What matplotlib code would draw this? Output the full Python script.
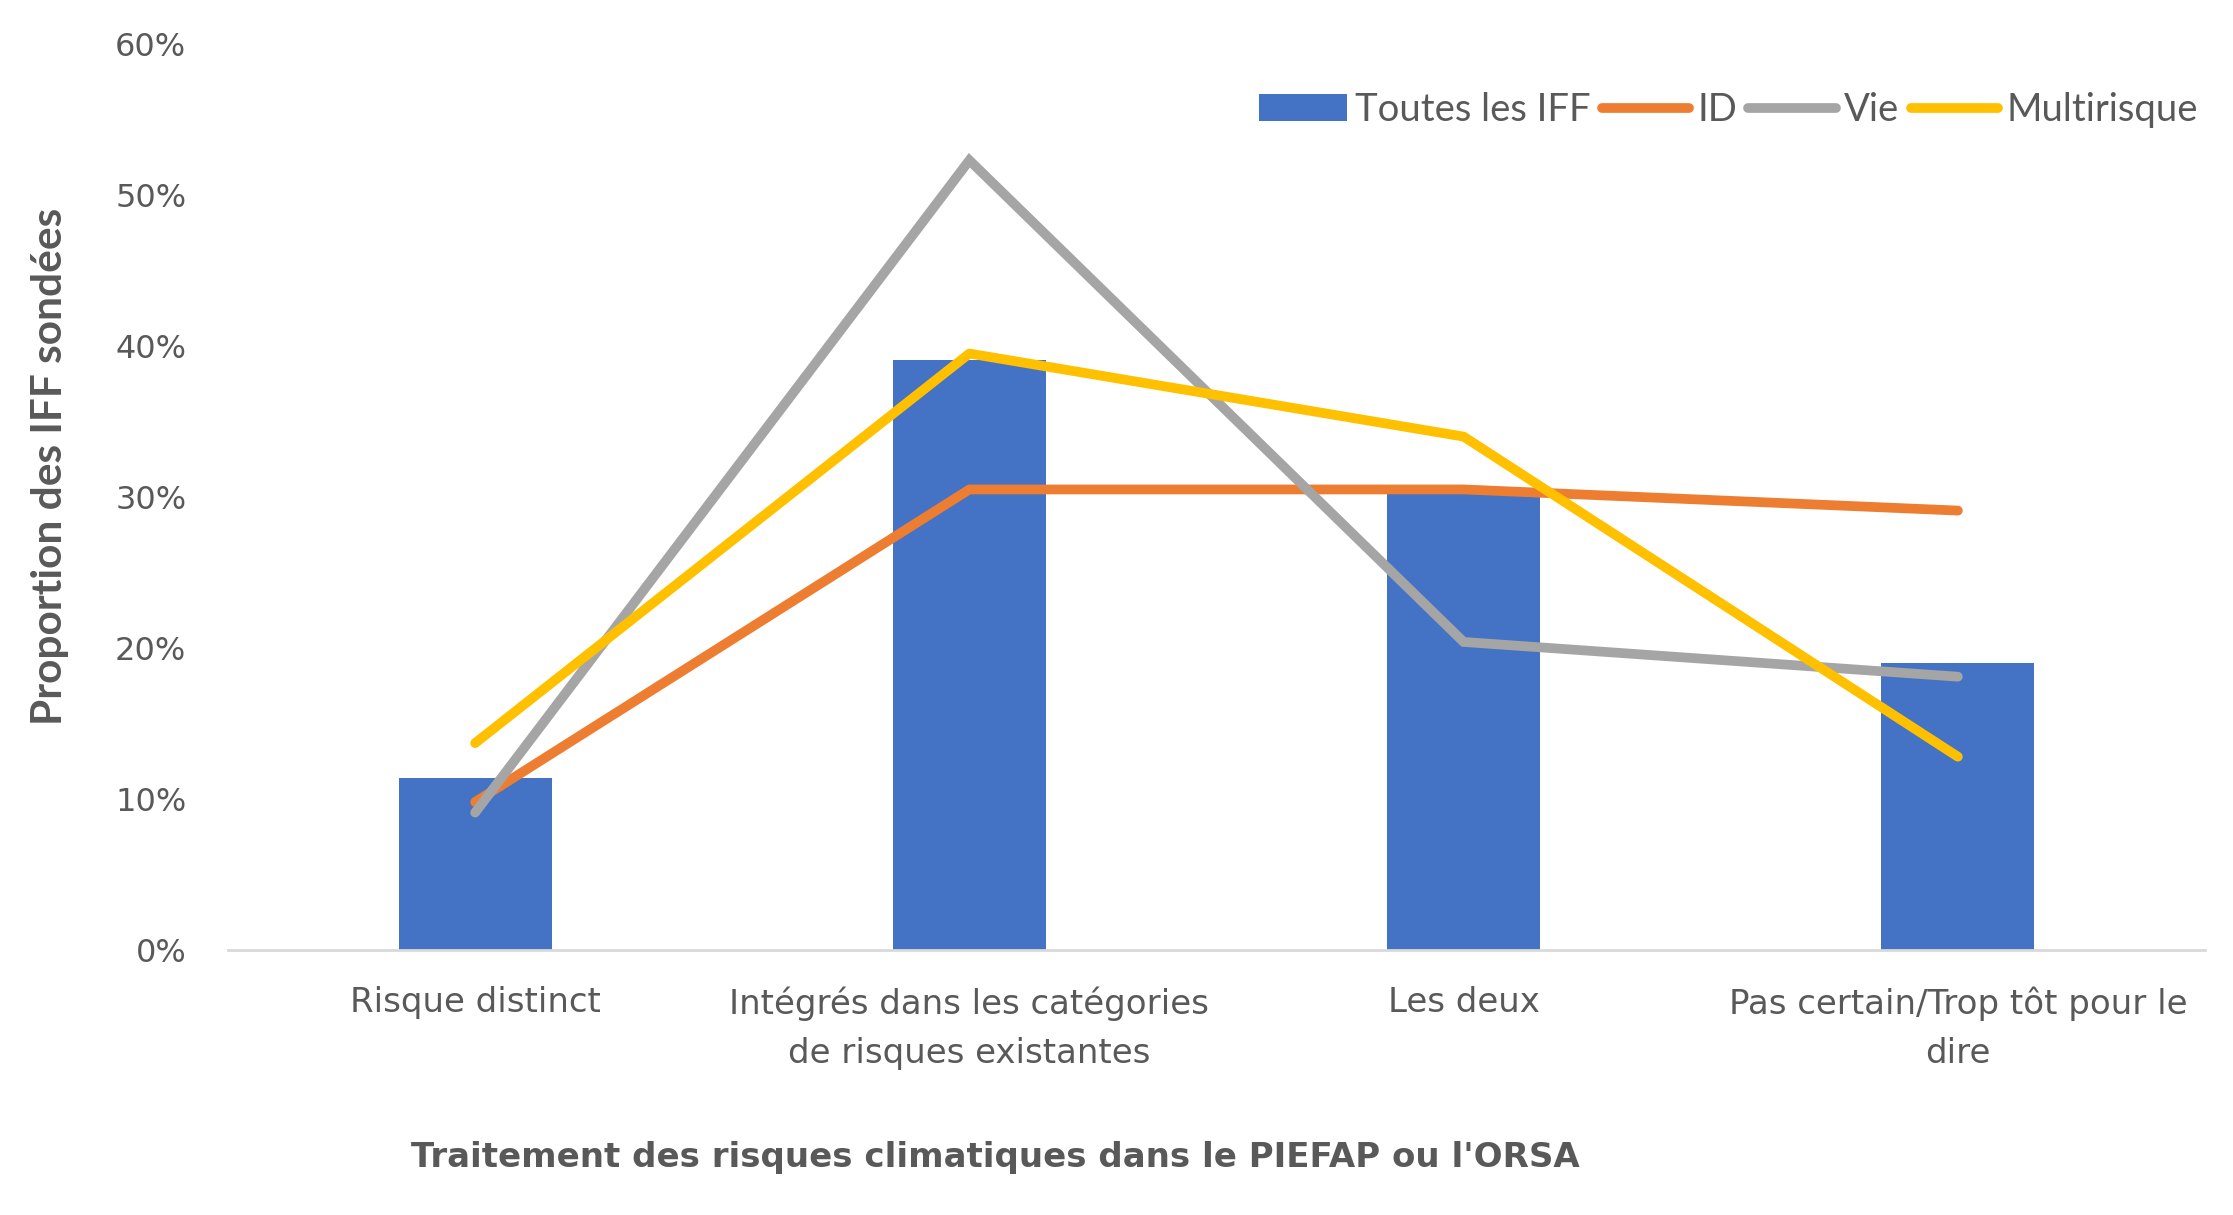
import matplotlib
matplotlib.use("Agg")
import matplotlib.pyplot as plt
import numpy as np

categories = ["Risque distinct", "Intégrés dans les catégories\nde risques existantes",
              "Les deux", "Pas certain/Trop tôt pour le\ndire"]
toutes_iff = [11.4, 39.1, 30.2, 19.0]
id_vals = [9.8, 30.5, 30.5, 29.1]
vie_vals = [9.1, 52.3, 20.4, 18.1]
multi_vals = [13.7, 39.5, 34.0, 12.8]
yticks = [0, 10, 20, 30, 40, 50, 60]

TXT = "#595959"
W, H = 2233, 1215
fig = plt.figure(figsize=(W / 100, H / 100), dpi=100)
ax = fig.add_axes([228 / W, 1 - 950 / H, (2205 - 228) / W, (950 - 44) / H])

x = np.arange(len(categories))
b = ax.bar(x, toutes_iff, width=0.31, color="#4472C4", label="Toutes les IFF", zorder=2)
lw = 7
l1, = ax.plot(x, id_vals, color="#ED7D31", lw=lw, solid_capstyle="round", solid_joinstyle="round", label="ID", zorder=3)
l2, = ax.plot(x, vie_vals, color="#A5A5A5", lw=lw, solid_capstyle="round", solid_joinstyle="miter", label="Vie", zorder=3)
l3, = ax.plot(x, multi_vals, color="#FFC000", lw=lw, solid_capstyle="round", solid_joinstyle="round", label="Multirisque", zorder=4)

ax.set_xlim(-0.5, len(categories) - 0.5)
ax.set_ylim(0, 60)
ax.set_yticks(yticks)
ax.set_yticklabels([f"{v}%" for v in yticks], fontsize=23, color=TXT, family="DejaVu Sans")
ax.set_xticks(x)
ax.set_xticklabels(categories, fontsize=24.5, color=TXT, family="DejaVu Sans", linespacing=1.62)
ax.tick_params(axis="y", length=0, pad=30)
ax.tick_params(axis="x", length=0, pad=26)
for s in ["top", "right", "left"]:
    ax.spines[s].set_visible(False)
ax.spines["bottom"].set_color("#D9D9D9")
ax.spines["bottom"].set_linewidth(2)

leg = ax.legend(handles=[b, l1, l2, l3], loc="upper right", bbox_to_anchor=(1.004, 0.964), ncol=4, frameon=False,
                prop={"family": ["Liberation Sans Narrow", "Lato"], "size": 27.5},
                handlelength=2.3, handletextpad=0.2, columnspacing=0.3, borderaxespad=0)
for t in leg.get_texts():
    t.set_color(TXT)

fig.text(50 / W, 1 - 466 / H, "Proportion des IFF sondées", rotation=90, ha="center", va="center",
         fontsize=30.5, fontweight="bold", color=TXT, family=["Liberation Sans Narrow", "Lato"])
fig.text(995 / W, 1 - 1158 / H, "Traitement des risques climatiques dans le PIEFAP ou l'ORSA",
         ha="center", va="center", fontsize=24.5, fontweight="bold", color=TXT, family="DejaVu Sans")

fig.savefig("out.png", dpi=100)
